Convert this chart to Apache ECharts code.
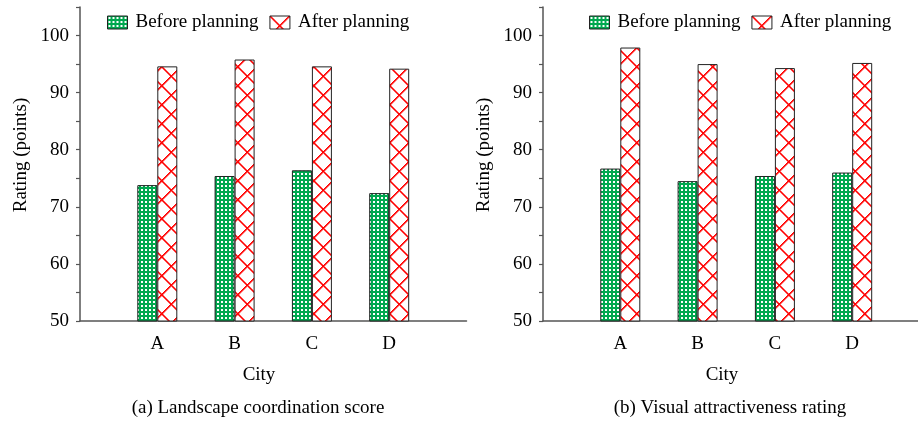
<!DOCTYPE html>
<html>
<head>
<meta charset="utf-8">
<script src="https://cdn.jsdelivr.net/npm/echarts@6/dist/echarts.min.js"></script>
<style>
html,body{margin:0;padding:0;background:#fff;}
#main{width:918px;height:423px;}
</style>
</head>
<body>
<div id="main"></div>
<script>
// ---- data ----
const cities = ['A', 'B', 'C', 'D'];
const seriesNames = ['Before planning', 'After planning'];
const landscapeBefore = [73.8, 75.4, 76.4, 72.4];
const landscapeAfter = [94.6, 95.8, 94.6, 94.2];
const visualBefore = [76.7, 74.5, 75.4, 76.0];
const visualAfter = [97.9, 95.0, 94.3, 95.2];
const yTicks = [50, 60, 70, 80, 90, 100];
const xAxisTitle = 'City';
const yAxisTitle = 'Rating (points)';
const captions = ['(a) Landscape coordination score', '(b) Visual attractiveness rating'];

// ---- patterns ----
function greenTile() {
  const c = document.createElement('canvas');
  c.width = 4; c.height = 4;
  const g = c.getContext('2d');
  g.fillStyle = '#00a84f';
  g.fillRect(0, 0, 4, 4);
  g.fillStyle = '#ffffff';
  g.fillRect(1, 1, 2, 2);
  return c;
}
function redTile() {
  const c = document.createElement('canvas');
  c.width = 19; c.height = 19;
  const g = c.getContext('2d');
  g.fillStyle = '#ffffff';
  g.fillRect(0, 0, 19, 19);
  g.fillStyle = '#ff0000';
  for (let i = 0; i < 19; i++) {
    g.fillRect(i, i, 1.6, 1.6);
    g.fillRect(18 - i, i, 1.6, 1.6);
  }
  return c;
}
const greenPattern = { image: greenTile(), repeat: 'repeat' };
const redPattern = { image: redTile(), repeat: 'repeat' };

const FONT = 'Liberation Serif';
const FS = 19;
const AXIS_COLOR = '#555';
const STEP = 77.3;

const chart = echarts.init(document.getElementById('main'), null, { renderer: 'canvas' });

const gridLefts = [80, 543];
const gridWidths = [386.5, 375];
const panels = [
  { before: landscapeBefore, after: landscapeAfter },
  { before: visualBefore, after: visualAfter }
];

const grids = gridLefts.map((l, i) => ({ left: l, top: 7, width: gridWidths[i], height: 314, containLabel: false }));

const xAxes = gridLefts.map((l, i) => ({
  type: 'value', gridIndex: i, min: 0, max: gridWidths[i] / STEP, interval: 1,
  axisLine: { show: true, lineStyle: { color: AXIS_COLOR, width: 1.5 } },
  axisTick: { show: false },
  splitLine: { show: false },
  axisLabel: {
    fontFamily: FONT, fontSize: FS, color: '#000', margin: 14,
    showMinLabel: false, showMaxLabel: false,
    formatter: v => (v >= 1 && v <= cities.length && Number.isInteger(v)) ? cities[v - 1] : ''
  }
}));

const yAxes = gridLefts.map((l, i) => ({
  type: 'value', gridIndex: i, min: 50, max: 105, interval: 5,
  axisLine: { show: true, lineStyle: { color: AXIS_COLOR, width: 1.5 } },
  axisTick: { show: true, inside: false, length: 4, lineStyle: { color: AXIS_COLOR, width: 1.2 } },
  splitLine: { show: false },
  axisLabel: {
    fontFamily: FONT, fontSize: FS, color: '#000', margin: 11,
    formatter: v => yTicks.indexOf(v) >= 0 ? String(v) : ''
  }
}));

const series = [];
panels.forEach((p, i) => {
  series.push({
    name: seriesNames[0], type: 'bar', xAxisIndex: i, yAxisIndex: i,
    barWidth: 20, barGap: '0%',
    itemStyle: { color: greenPattern, borderColor: '#222', borderWidth: 1 },
    data: p.before.map((v, k) => [k + 1, v])
  });
  series.push({
    name: seriesNames[1], type: 'bar', xAxisIndex: i, yAxisIndex: i,
    barWidth: 20, barGap: '0%',
    itemStyle: { color: redPattern, borderColor: '#222', borderWidth: 1 },
    data: p.after.map((v, k) => [k + 1, v])
  });
});

const legendLefts = [107, 589];
const legends = legendLefts.map(l => ({
  left: l, top: 13, padding: 0, itemWidth: 20, itemHeight: 13, itemGap: 11,
  icon: 'rect',
  data: seriesNames,
  textStyle: { fontFamily: FONT, fontSize: FS, color: '#000', padding: [0, 0, 0, 3] },
  itemStyle: { borderColor: '#222', borderWidth: 1 },
  selectedMode: false
}));

const texts = [];
gridLefts.forEach((l, i) => {
  texts.push({
    type: 'text', x: l + 179, y: 375,
    style: { text: xAxisTitle, font: FS + 'px "' + FONT + '"', fill: '#000', align: 'center', verticalAlign: 'middle' }
  });
  texts.push({
    type: 'text', x: l - 59, y: 155, rotation: Math.PI / 2,
    style: { text: yAxisTitle, font: FS + 'px "' + FONT + '"', fill: '#000', align: 'center', verticalAlign: 'middle' }
  });
});
texts.push({
  type: 'text', x: 258, y: 408,
  style: { text: captions[0], font: FS + 'px "' + FONT + '"', fill: '#000', align: 'center', verticalAlign: 'middle' }
});
texts.push({
  type: 'text', x: 730, y: 408,
  style: { text: captions[1], font: FS + 'px "' + FONT + '"', fill: '#000', align: 'center', verticalAlign: 'middle' }
});

chart.setOption({
  animation: false,
  backgroundColor: '#fff',
  textStyle: { fontFamily: FONT },
  grid: grids,
  xAxis: xAxes,
  yAxis: yAxes,
  legend: legends,
  series: series,
  graphic: texts
});
</script>
</body>
</html>
